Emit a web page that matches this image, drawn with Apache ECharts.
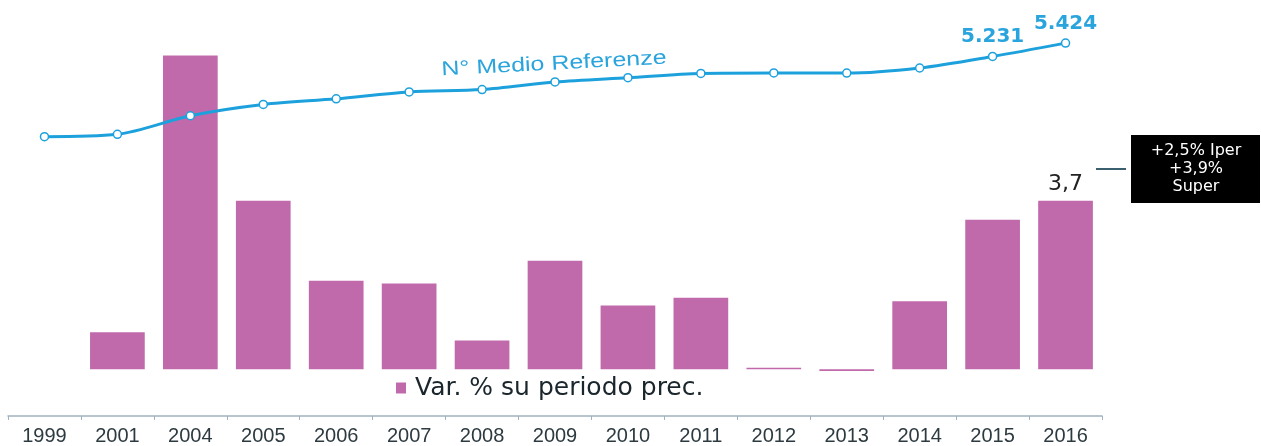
<!DOCTYPE html>
<html>
<head>
<meta charset="utf-8">
<script src="https://cdn.jsdelivr.net/npm/echarts@6/dist/echarts.min.js"></script>
<style>
  html, body { margin: 0; padding: 0; background: #fff; }
  #chart { width: 1261px; height: 446px; }
</style>
</head>
<body>
<div id="chart"></div>
<script>
// anni sull'asse x
var years = ['1999', '2001', '2004', '2005', '2006', '2007', '2008', '2009', '2010', '2011', '2012', '2013', '2014', '2015', '2016']
// Var. % su periodo prec. (1999 senza barra)
var varPerc = [null, 0.81, 6.89, 3.7, 1.94, 1.88, 0.63, 2.38, 1.4, 1.57, 0.03, -0.04, 1.49, 3.28, 3.7]
// N° medio referenze
var referenze = [4070, 4104, 4373, 4536, 4618, 4718, 4752, 4862, 4924, 4986, 4992, 4990, 5064, 5231, 5424]
// anni con etichetta
var labeledLine = ['2015', '2016']
var labeledBar = ['2016']

var blue = '#1DA1DD'
var purple = '#C06AAB'

function fmtThousands (v) {
  return String(v).replace(/\B(?=(\d{3})+(?!\d))/g, '.')
}

var chart = echarts.init(document.getElementById('chart'))
chart.setOption({
  backgroundColor: '#fff',
  animation: false,
  grid: {
    left: 8,
    right: 159,
    top: 0,
    bottom: 28
  },
  legend: {
    data: ['Var. % su periodo prec.'],
    left: 396,
    top: 375,
    padding: 0,
    icon: 'rect',
    itemWidth: 10,
    itemHeight: 11,
    textStyle: {
      fontFamily: 'DejaVu Sans',
      fontSize: 25,
      lineHeight: 26,
      color: '#1a262c',
      padding: [0, 0, 0, 4]
    }
  },
  xAxis: {
    type: 'category',
    data: years,
    axisLine: {
      onZero: false,
      lineStyle: { color: '#9fb2bf', width: 1.5 }
    },
    axisTick: {
      show: true,
      length: 4,
      lineStyle: { color: '#9fb2bf' }
    },
    axisLabel: {
      interval: 0,
      margin: 10,
      fontFamily: 'Liberation Sans',
      fontSize: 20,
      color: '#2d3a40'
    },
    splitLine: { show: false }
  },
  yAxis: [{
    type: 'value',
    show: false,
    min: -1.027,
    max: 8.107,
    splitLine: { show: false }
  }, {
    type: 'value',
    show: false,
    min: 28,
    max: 6048,
    splitLine: { show: false }
  }],
  series: [{
    name: 'Var. % su periodo prec.',
    type: 'bar',
    yAxisIndex: 0,
    barWidth: '75%',
    itemStyle: { color: purple },
    label: {
      show: true,
      position: 'top',
      distance: 5,
      fontFamily: 'DejaVu Sans',
      fontSize: 22,
      color: '#222',
      formatter: function (p) {
        return labeledBar.indexOf(p.name) !== -1 ? String(p.value).replace('.', ',') : ''
      }
    },
    data: varPerc
  }, {
    name: 'N° Medio Referenze',
    type: 'line',
    yAxisIndex: 1,
    smooth: 0.3,
    symbol: 'circle',
    symbolSize: 8,
    z: 5,
    lineStyle: { color: blue, width: 3 },
    itemStyle: { color: '#fff', borderColor: blue, borderWidth: 1.5 },
    label: {
      show: true,
      position: 'top',
      distance: 5,
      fontFamily: 'DejaVu Sans',
      fontWeight: 'bold',
      fontSize: 20,
      color: '#2AA4DC',
      formatter: function (p) {
        return labeledLine.indexOf(p.name) !== -1 ? fmtThousands(p.value) : ''
      }
    },
    data: referenze
  }],
  graphic: [{
    type: 'text',
    x: 554,
    y: 64,
    rotation: 0.052,
    scaleX: 1.25,
    style: {
      text: 'N° Medio Referenze',
      fontFamily: 'Liberation Sans',
      fontSize: 20,
      fill: '#2AA4DC',
      align: 'center',
      verticalAlign: 'middle'
    }
  }, {
    type: 'line',
    shape: { x1: 1096, y1: 169, x2: 1126, y2: 169 },
    style: { stroke: '#3b5f6e', lineWidth: 2 }
  }, {
    type: 'rect',
    shape: { x: 1131, y: 135, width: 129, height: 68 },
    style: { fill: '#000' }
  }, {
    type: 'text',
    x: 1196,
    y: 169,
    style: {
      text: '+2,5% Iper\n+3,9%\nSuper',
      fontFamily: 'DejaVu Sans',
      fontSize: 16,
      lineHeight: 18,
      fill: '#fff',
      align: 'center',
      verticalAlign: 'middle'
    }
  }]
})
</script>
</body>
</html>
